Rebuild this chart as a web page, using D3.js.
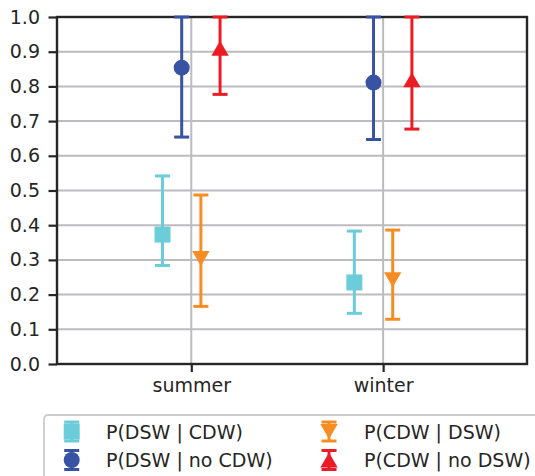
<!DOCTYPE html>
<html>
<head>
<meta charset="utf-8">
<script src="https://cdn.jsdelivr.net/npm/d3@7"></script>
<style>
  html, body { margin: 0; padding: 0; background: #fff; }
  svg { display: block; font-family: "DejaVu Sans", sans-serif; }
</style>
</head>
<body>
<svg id="chart" width="535" height="476"></svg>
<script>
// Seasons on the x axis
const categories = ["summer", "winter"];
const yTicks = [0.0, 0.1, 0.2, 0.3, 0.4, 0.5, 0.6, 0.7, 0.8, 0.9, 1.0];

// Conditional probabilities: point estimate with lower / upper interval bounds
const seriesNames = ["P(DSW | CDW)", "P(DSW | no CDW)", "P(CDW | DSW)", "P(CDW | no DSW)"];
const dswGivenCdw      = [0.373, 0.235];
const dswGivenCdwLow   = [0.284, 0.146];
const dswGivenCdwHigh  = [0.542, 0.383];
const dswGivenNoCdw     = [0.854, 0.811];
const dswGivenNoCdwLow  = [0.654, 0.647];
const dswGivenNoCdwHigh = [1.0, 1.0];
const cdwGivenDsw      = [0.304, 0.243];
const cdwGivenDswLow   = [0.166, 0.129];
const cdwGivenDswHigh  = [0.487, 0.386];
const cdwGivenNoDsw     = [0.910, 0.819];
const cdwGivenNoDswLow  = [0.777, 0.677];
const cdwGivenNoDswHigh = [1.0, 1.0];

const series = [
  { name: seriesNames[0], mid: dswGivenCdw,   lo: dswGivenCdwLow,   hi: dswGivenCdwHigh,   color: "#6bccda", marker: "square", offset: -0.15 },
  { name: seriesNames[1], mid: dswGivenNoCdw, lo: dswGivenNoCdwLow, hi: dswGivenNoCdwHigh, color: "#3953a4", marker: "circle", offset: -0.05 },
  { name: seriesNames[2], mid: cdwGivenDsw,   lo: cdwGivenDswLow,   hi: cdwGivenDswHigh,   color: "#f68d22", marker: "triDown", offset: 0.05 },
  { name: seriesNames[3], mid: cdwGivenNoDsw, lo: cdwGivenNoDswLow, hi: cdwGivenNoDswHigh, color: "#ed1c24", marker: "triUp", offset: 0.15 }
];

const svg = d3.select("#chart");
const plotLeft = 57, plotRight = 527, plotTop = 17, plotBottom = 364;
const ink = "#262626";
const gridColor = "#bcbcc0";

const x = d3.scaleLinear().domain([-0.7, 1.75]).range([plotLeft, plotRight]);
const y = d3.scaleLinear().domain([0, 1]).range([plotBottom, plotTop]);

// Grid
const grid = svg.append("g");
grid.selectAll("line.h").data(yTicks).join("line")
  .attr("x1", plotLeft).attr("x2", plotRight)
  .attr("y1", d => y(d)).attr("y2", d => y(d))
  .attr("stroke", gridColor).attr("stroke-width", 2);
grid.selectAll("line.v").data(categories).join("line")
  .attr("x1", (d, i) => x(i)).attr("x2", (d, i) => x(i))
  .attr("y1", plotTop).attr("y2", plotBottom)
  .attr("stroke", gridColor).attr("stroke-width", 2);

// Axes
const yAxis = d3.axisLeft(y).tickValues(yTicks).tickFormat(d3.format(".1f"))
  .tickSize(8.5).tickPadding(8.5);
const xAxis = d3.axisBottom(x).tickValues(categories.map((d, i) => i))
  .tickFormat(i => categories[i]).tickSize(8).tickPadding(7);

const gy = svg.append("g").attr("transform", `translate(${plotLeft},0)`).call(yAxis);
const gx = svg.append("g").attr("transform", `translate(0,${plotBottom})`).call(xAxis);
[gx, gy].forEach(g => {
  g.select(".domain").remove();
  g.selectAll(".tick line").attr("stroke", ink).attr("stroke-width", 2.2);
  g.selectAll(".tick text").attr("fill", ink).style("font-size", "19px")
    .style("font-family", "'DejaVu Sans', sans-serif");
});

// Frame
svg.append("rect")
  .attr("x", plotLeft).attr("y", plotTop)
  .attr("width", plotRight - plotLeft).attr("height", plotBottom - plotTop)
  .attr("fill", "none").attr("stroke", ink).attr("stroke-width", 2.4);

// Marker shapes
function markerPath(type) {
  if (type === "square") return d3.symbol(d3.symbolSquare, 16 * 16)();
  if (type === "circle") return d3.symbol(d3.symbolCircle, Math.PI * 8 * 8)();
  const w = 8.7, h = 7.5;
  if (type === "triUp") return `M0,${-h}L${w},${h}L${-w},${h}Z`;
  return `M0,${h}L${w},${-h}L${-w},${-h}Z`;
}

function errorBar(g, cx, y1, y2, color) {
  const capW = 7.5;
  g.append("line").attr("x1", cx).attr("x2", cx).attr("y1", y1).attr("y2", y2)
    .attr("stroke", color).attr("stroke-width", 3);
  [y1, y2].forEach(yy => g.append("line")
    .attr("x1", cx - capW).attr("x2", cx + capW).attr("y1", yy).attr("y2", yy)
    .attr("stroke", color).attr("stroke-width", 3));
}

// Data marks
const marks = svg.append("g");
series.forEach(s => {
  categories.forEach((c, i) => {
    const cx = x(i + s.offset);
    errorBar(marks, cx, y(s.lo[i]), y(s.hi[i]), s.color);
    marks.append("path").attr("d", markerPath(s.marker))
      .attr("transform", `translate(${cx},${y(s.mid[i])})`)
      .attr("fill", s.color);
  });
});

// Legend
const legend = svg.append("g");
legend.append("rect")
  .attr("x", 44).attr("y", 415).attr("width", 520).attr("height", 90)
  .attr("rx", 4).attr("fill", "#fff").attr("stroke", "#cccccc").attr("stroke-width", 1.8);

const legendPos = [
  { mx: 71.7, tx: 106, cy: 431.5 },
  { mx: 71.7, tx: 106, cy: 460 },
  { mx: 329, tx: 364, cy: 431.5 },
  { mx: 329, tx: 364, cy: 460 }
];
series.forEach((s, k) => {
  const p = legendPos[k];
  errorBar(legend, p.mx, p.cy - 9.5, p.cy + 9.5, s.color);
  legend.append("path").attr("d", markerPath(s.marker))
    .attr("transform", `translate(${p.mx},${p.cy})`).attr("fill", s.color);
  legend.append("text").attr("x", p.tx).attr("y", p.cy)
    .attr("dominant-baseline", "central")
    .attr("fill", ink).style("font-size", "19px")
    .text(s.name);
});
</script>
</body>
</html>
